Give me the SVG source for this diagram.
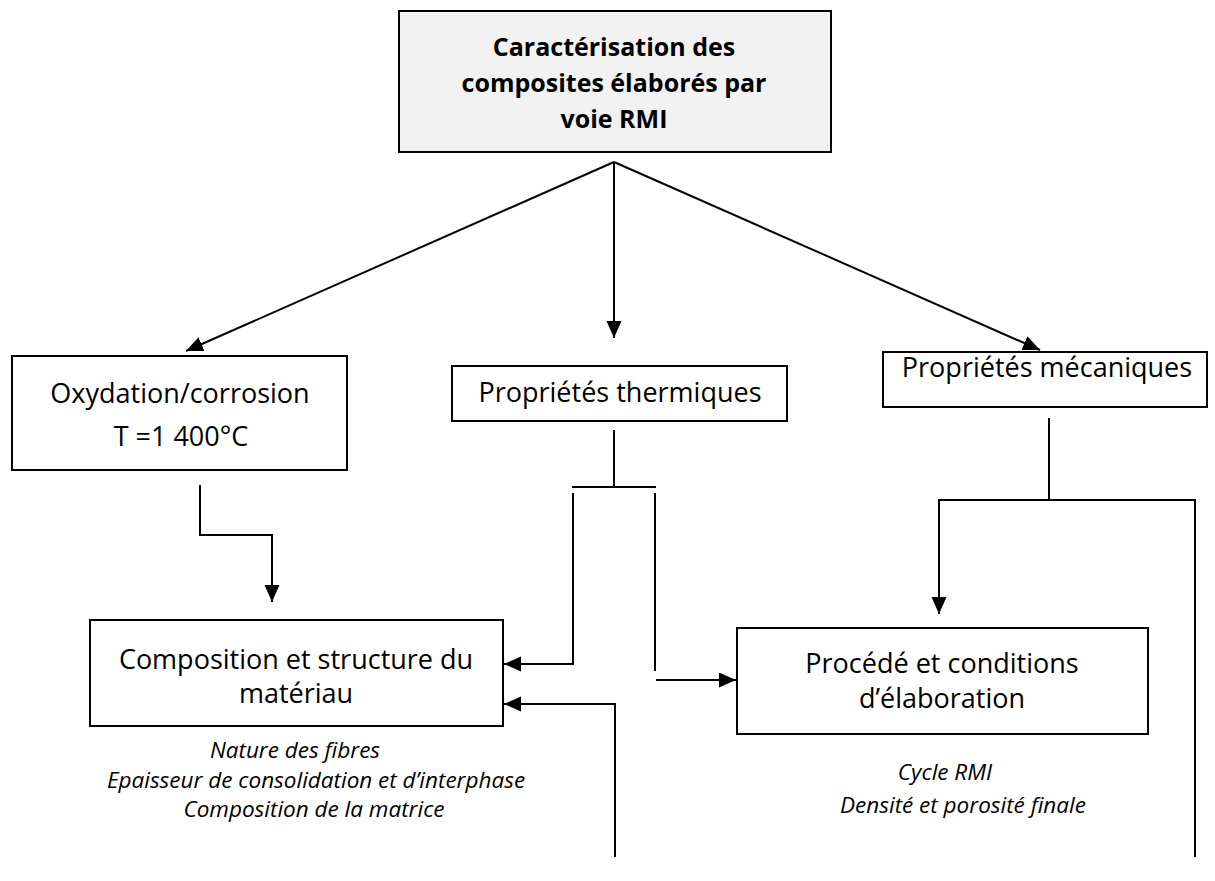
<svg xmlns="http://www.w3.org/2000/svg" width="1215" height="881" viewBox="0 0 1215 881">
<defs>
<marker id="arr" markerUnits="userSpaceOnUse" markerWidth="18" markerHeight="16" refX="17" refY="7.5" orient="auto">
<path d="M0,0 L17,7.5 L0,15 z" fill="#000"/>
</marker>
<style>
.box{fill:#fff;stroke:#000;stroke-width:2}
.title{fill:#f2f2f2;stroke:#000;stroke-width:2}
.t{font-family:"Open Sans","Liberation Sans",sans-serif;font-size:27px;fill:#000;text-anchor:middle}
.b{font-family:"Open Sans","Liberation Sans",sans-serif;font-size:25px;font-weight:bold;fill:#000;text-anchor:middle}
.i{font-family:"Open Sans","Liberation Sans",sans-serif;font-size:22.5px;font-style:italic;fill:#000;text-anchor:middle}
.c{fill:none;stroke:#000;stroke-width:2}
</style>
</defs>
<rect width="1215" height="881" fill="#fff"/>
<g id="connectors">
<line class="c" x1="614" y1="162" x2="186" y2="351" marker-end="url(#arr)"/>
<line class="c" x1="614" y1="162" x2="614" y2="338" marker-end="url(#arr)"/>
<line class="c" x1="614" y1="162" x2="1040" y2="350" marker-end="url(#arr)"/>
<polyline class="c" points="200,485 200,535 272,535 272,602" marker-end="url(#arr)"/>
<line class="c" x1="614" y1="430" x2="614" y2="487"/>
<line class="c" x1="572" y1="487" x2="656" y2="487"/>
<polyline class="c" points="573,493 573,664 504,664" marker-end="url(#arr)"/>
<line class="c" x1="655" y1="493" x2="655" y2="671"/>
<line class="c" x1="656" y1="680" x2="736" y2="680" marker-end="url(#arr)"/>
<polyline class="c" points="615,857 615,704 504,704" marker-end="url(#arr)"/>
<line class="c" x1="1049" y1="418" x2="1049" y2="500"/>
<polyline class="c" points="939,500 1195,500 1195,857"/>
<line class="c" x1="939" y1="499" x2="939" y2="614" marker-end="url(#arr)"/>
</g>
<g id="n-top">
<rect class="title" x="399" y="11" width="432" height="141"/>
<text class="b" x="614" y="56">Caractérisation des</text>
<text class="b" x="614" y="92">composites élaborés par</text>
<text class="b" x="614" y="128">voie RMI</text>
</g>
<g id="n-oxy">
<rect class="box" x="12" y="356" width="335" height="114"/>
<text class="t" x="180" y="403">Oxydation/corrosion</text>
<text class="t" x="181" y="446">T =1 400°C</text>
</g>
<g id="n-therm">
<rect class="box" x="452" y="366" width="335" height="55"/>
<text class="t" x="620" y="402">Propriétés thermiques</text>
</g>
<g id="n-meca">
<rect class="box" x="883" y="352" width="324" height="55"/>
<text class="t" x="1047" y="377">Propriétés mécaniques</text>
</g>
<g id="n-compo">
<rect class="box" x="90" y="620" width="413" height="106"/>
<text class="t" x="296" y="669">Composition et structure du</text>
<text class="t" x="296" y="703">matériau</text>
<text class="i" x="295" y="758">Nature des fibres</text>
<text class="i" x="316" y="788">Epaisseur de consolidation et d’interphase</text>
<text class="i" x="314" y="817">Composition de la matrice</text>
</g>
<g id="n-proc">
<rect class="box" x="737" y="628" width="411" height="106"/>
<text class="t" x="942" y="673">Procédé et conditions</text>
<text class="t" x="942" y="708">d’élaboration</text>
<text class="i" x="945" y="780">Cycle RMI</text>
<text class="i" x="963" y="813">Densité et porosité finale</text>
</g>
</svg>
